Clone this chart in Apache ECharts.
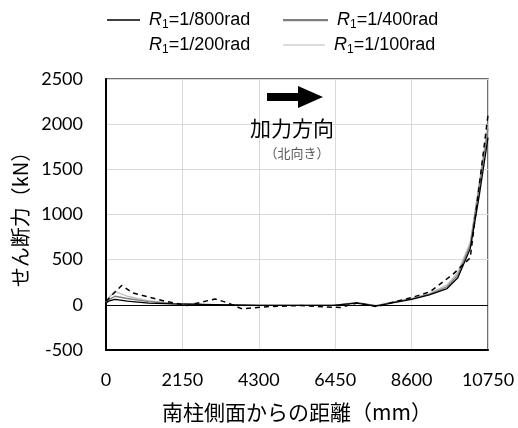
<!DOCTYPE html>
<html>
<head>
<meta charset="utf-8">
<script src="https://cdn.jsdelivr.net/npm/echarts@6/dist/echarts.min.js"></script>
<style>
  html, body { margin: 0; padding: 0; background: #fff; }
  #chart { width: 518px; height: 428px; }
</style>
</head>
<body>
<div id="chart"></div>
<script>
// Measurement positions along the column face (mm)
const xSolid = [0, 100, 250, 600, 1200, 1900, 2700, 3500, 4300, 5400, 6400, 7050, 7600, 8100, 8600, 9100, 9600, 9900, 10250, 10500, 10750];
const xDashed = [0, 150, 440, 760, 1700, 2280, 3070, 3400, 3830, 4530, 5460, 6590, 7060, 7630, 8080, 8640, 9120, 9770, 10250, 10750];

// Shear force (kN) for each drift angle
const r800 = [20, 45, 60, 40, 20, 10, 5, 0, -5, -5, -5, 20, -15, 25, 60, 110, 180, 300, 620, 1200, 1850];
const r400 = [25, 60, 95, 70, 35, 12, 5, 0, -5, -5, -5, 25, -10, 30, 65, 115, 200, 330, 660, 1300, 1950];
const r200 = [40, 100, 215, 130, 37, -8, 65, 25, -45, -20, -8, -30, 20, -20, 30, 85, 145, 340, 520, 2100];
const r100 = [30, 90, 150, 95, 45, 15, 5, 0, -5, -5, -5, 25, -10, 35, 70, 125, 220, 360, 690, 1340, 1990];

const xTicks = [0, 2150, 4300, 6450, 8600, 10750];
const yTicks = [-500, 0, 500, 1000, 1500, 2000, 2500];

const names = ['R1=1/800rad', 'R1=1/400rad', 'R1=1/200rad', 'R1=1/100rad'];

const pair = (xs, ys) => xs.map((x, i) => [x, ys[i]]);

const legendText = {
  fontFamily: 'Liberation Sans',
  fontSize: 18,
  color: '#000',
  rich: {
    i: { fontFamily: 'Liberation Sans', fontSize: 18, fontStyle: 'italic', color: '#000', padding: [0, 0, 0, 4] },
    s: { fontFamily: 'Liberation Sans', fontSize: 12, color: '#000', verticalAlign: 'bottom', padding: [9, 0, 0, 0] },
    t: { fontFamily: 'Liberation Sans', fontSize: 18, color: '#000' }
  }
};
const legendFmt = n => '{i|R}{s|1}{t|' + n.slice(2) + '}';

// one legend block per entry so each sits in its own slot of the 2x2 key
const legendAt = (name, left, top, w) => ({
  data: [name], left: left, top: top, itemWidth: w, itemHeight: 14,
  icon: 'path://M0,6h40v2h-40z',
  formatter: legendFmt, textStyle: legendText
});

const chart = echarts.init(document.getElementById('chart'), null, { renderer: 'canvas' });

chart.setOption({
  animation: false,
  backgroundColor: '#fff',
  grid: {
    left: 106, right: 30, top: 79, bottom: 78,
    outerBoundsMode: 'none', containLabel: false,
    show: true, borderColor: '#404040', borderWidth: 1.5
  },
  legend: [
    legendAt(names[0], 102, 6, 33),
    legendAt(names[1], 278, 6, 45),
    legendAt(names[2], 102, 31, 33),
    legendAt(names[3], 278, 31, 42)
  ],
  xAxis: {
    type: 'value', min: 0, max: 10750, interval: 2150,
    axisLine: { show: true, onZero: false, lineStyle: { color: '#000', width: 2 } },
    axisTick: { show: false },
    splitLine: { show: true, lineStyle: { color: '#d9d9d9', width: 1 } },
    axisLabel: {
      margin: 21, fontFamily: 'Lato', fontSize: 18, color: '#000',
      formatter: v => xTicks.includes(v) ? String(v) : ''
    },
    name: '南柱側面からの距離（mm）',
    nameLocation: 'middle', nameGap: 52,
    nameTextStyle: { fontFamily: 'Noto Sans CJK JP', fontSize: 21, color: '#000' }
  },
  yAxis: {
    type: 'value', min: -500, max: 2500, interval: 500,
    axisLine: { show: true, onZero: false, lineStyle: { color: '#000', width: 2 } },
    axisTick: { show: false },
    splitLine: { show: true, lineStyle: { color: '#d9d9d9', width: 1 } },
    axisLabel: {
      margin: 23, fontFamily: 'Lato', fontSize: 18, color: '#000',
      formatter: v => yTicks.includes(v) ? String(v) : ''
    },
    name: 'せん断力（kN）',
    nameLocation: 'middle', nameGap: 76, nameRotate: 90,
    nameTextStyle: { fontFamily: 'Noto Sans CJK JP', fontSize: 20, color: '#000' }
  },
  series: [
    {
      name: names[0], type: 'line', data: pair(xSolid, r800), showSymbol: false,
      lineStyle: { color: '#000', width: 1.3 }, itemStyle: { color: '#000' }, z: 5,
      markLine: {
        silent: true, symbol: 'none', label: { show: false },
        lineStyle: { color: '#000', width: 1.2, type: 'solid' },
        data: [{ yAxis: 0 }]
      }
    },
    {
      name: names[1], type: 'line', data: pair(xSolid, r400), showSymbol: false,
      lineStyle: { color: '#7f7f7f', width: 1.3 }, itemStyle: { color: '#7f7f7f' }, z: 4
    },
    {
      name: names[2], type: 'line', data: pair(xDashed, r200), showSymbol: false,
      lineStyle: { color: '#000', width: 1.5, type: [5, 4] }, itemStyle: { color: '#000', opacity: 0 }, z: 6
    },
    {
      name: names[3], type: 'line', data: pair(xSolid, r100), showSymbol: false,
      lineStyle: { color: '#bdbdbd', width: 1.3 }, itemStyle: { color: '#dcdcdc' }, z: 3
    }
  ],
  graphic: [
    {
      type: 'polygon', z: 20,
      shape: { points: [[267, 93], [298, 93], [298, 86], [323, 97], [298, 108], [298, 101], [267, 101]] },
      style: { fill: '#000' }
    },
    {
      type: 'text', x: 292, y: 128, z: 20,
      style: { text: '加力方向', fontFamily: 'Noto Sans CJK JP', fontSize: 21, fill: '#000', align: 'center', verticalAlign: 'middle' }
    },
    {
      type: 'text', x: 297, y: 153, z: 20,
      style: { text: '（北向き）', fontFamily: 'Noto Sans CJK JP', fontSize: 13, fill: '#595959', align: 'center', verticalAlign: 'middle' }
    }
  ]
});
</script>
</body>
</html>
